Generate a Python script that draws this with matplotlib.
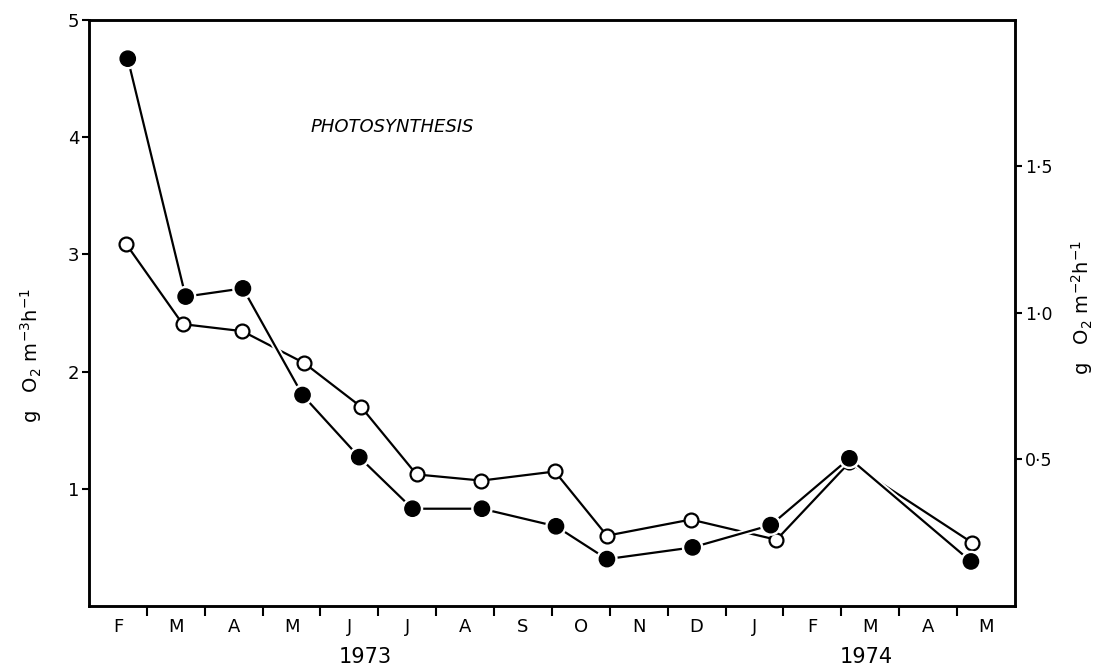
import numpy as np
import matplotlib.pyplot as plt
import matplotlib.patheffects as pe

# month axis: Feb 1973 .. May 1974
months = ["F", "M", "A", "M", "J", "J", "A", "S", "O", "N", "D", "J", "F", "M", "A", "M"]

# filled circles, left axis (g O2 m-3 h-1)
vol_x = [0.67, 1.67, 2.66, 3.69, 4.67, 5.59, 6.79, 8.07, 8.95, 10.43, 11.78, 13.14, 15.24]
vol_y = [4.67, 2.64, 2.71, 1.80, 1.27, 0.83, 0.83, 0.68, 0.40, 0.50, 0.69, 1.26, 0.38]

# open circles, right axis (g O2 m-2 h-1)
area_x = [0.64, 1.62, 2.65, 3.72, 4.70, 5.66, 6.78, 8.05, 8.95, 10.40, 11.88, 13.14, 15.26]
area_y = [1.236, 0.962, 0.938, 0.829, 0.680, 0.449, 0.428, 0.459, 0.240, 0.295, 0.226, 0.49, 0.216]

left_ticks = [1, 2, 3, 4, 5]
right_ticks = [0.5, 1.0, 1.5]
right_labels = ["0·5", "1·0", "1·5"]
years = ["1973", "1974"]
year_x = [4.78, 13.43]

fig = plt.figure(figsize=(11.08, 6.69), dpi=100)
ax = fig.add_axes([0.0803, 0.0942, 0.8357, 0.8759])
ax2 = ax.twinx()

ax.set_xlim(0, 16)
ax.set_ylim(0, 5)
ax2.set_ylim(0, 2.0)

# open series on the right axis, behind the filled series
ax2.plot(area_x, area_y, color="black", lw=1.6, marker="o", ms=10,
         mfc="white", mec="black", mew=1.6, zorder=2)
ax.set_zorder(ax2.get_zorder() + 1)
ax.patch.set_visible(False)
ax.plot(vol_x, vol_y, color="black", lw=1.6, marker="o", ms=11,
        mfc="black", mec="black", zorder=3,
        path_effects=[pe.Stroke(linewidth=4.5, foreground="white"), pe.Normal()])

# x axis: ticks at month boundaries, labels centred in each month
ax.set_xticks(np.arange(1, 16))
ax.set_xticklabels([])
ax.set_xticks(np.arange(16) + 0.5, minor=True)
ax.set_xticklabels(months, minor=True, fontsize=13)
ax.tick_params(axis="x", which="major", direction="out", length=7, width=1.5)
ax.tick_params(axis="x", which="minor", length=0, pad=9)

ax.set_yticks(left_ticks)
ax.set_yticklabels([str(t) for t in left_ticks], fontsize=13)
ax.tick_params(axis="y", direction="out", length=5, width=1.5, pad=2)

ax2.set_yticks(right_ticks)
ax2.set_yticklabels(right_labels, fontsize=12.5)
ax2.tick_params(axis="y", direction="out", length=5, width=1.5, pad=2)

for a in (ax, ax2):
    for s in a.spines.values():
        s.set_linewidth(1.8)

fig.text(0.028, 0.468, "g   O$_2$ m$^{-3}$h$^{-1}$", fontsize=14,
         rotation=90, ha="center", va="center")
fig.text(0.977, 0.541, "g   O$_2$ m$^{-2}$h$^{-1}$", fontsize=14,
         rotation=90, ha="center", va="center")

for yr, xx in zip(years, year_x):
    ax.text(xx, -0.087, yr, transform=ax.get_xaxis_transform(),
            ha="center", va="center", fontsize=15)

ax.text(3.83, 4.09, "PHOTOSYNTHESIS", fontsize=13, style="italic",
        ha="left", va="center")

fig.savefig("out.png", dpi=100)
